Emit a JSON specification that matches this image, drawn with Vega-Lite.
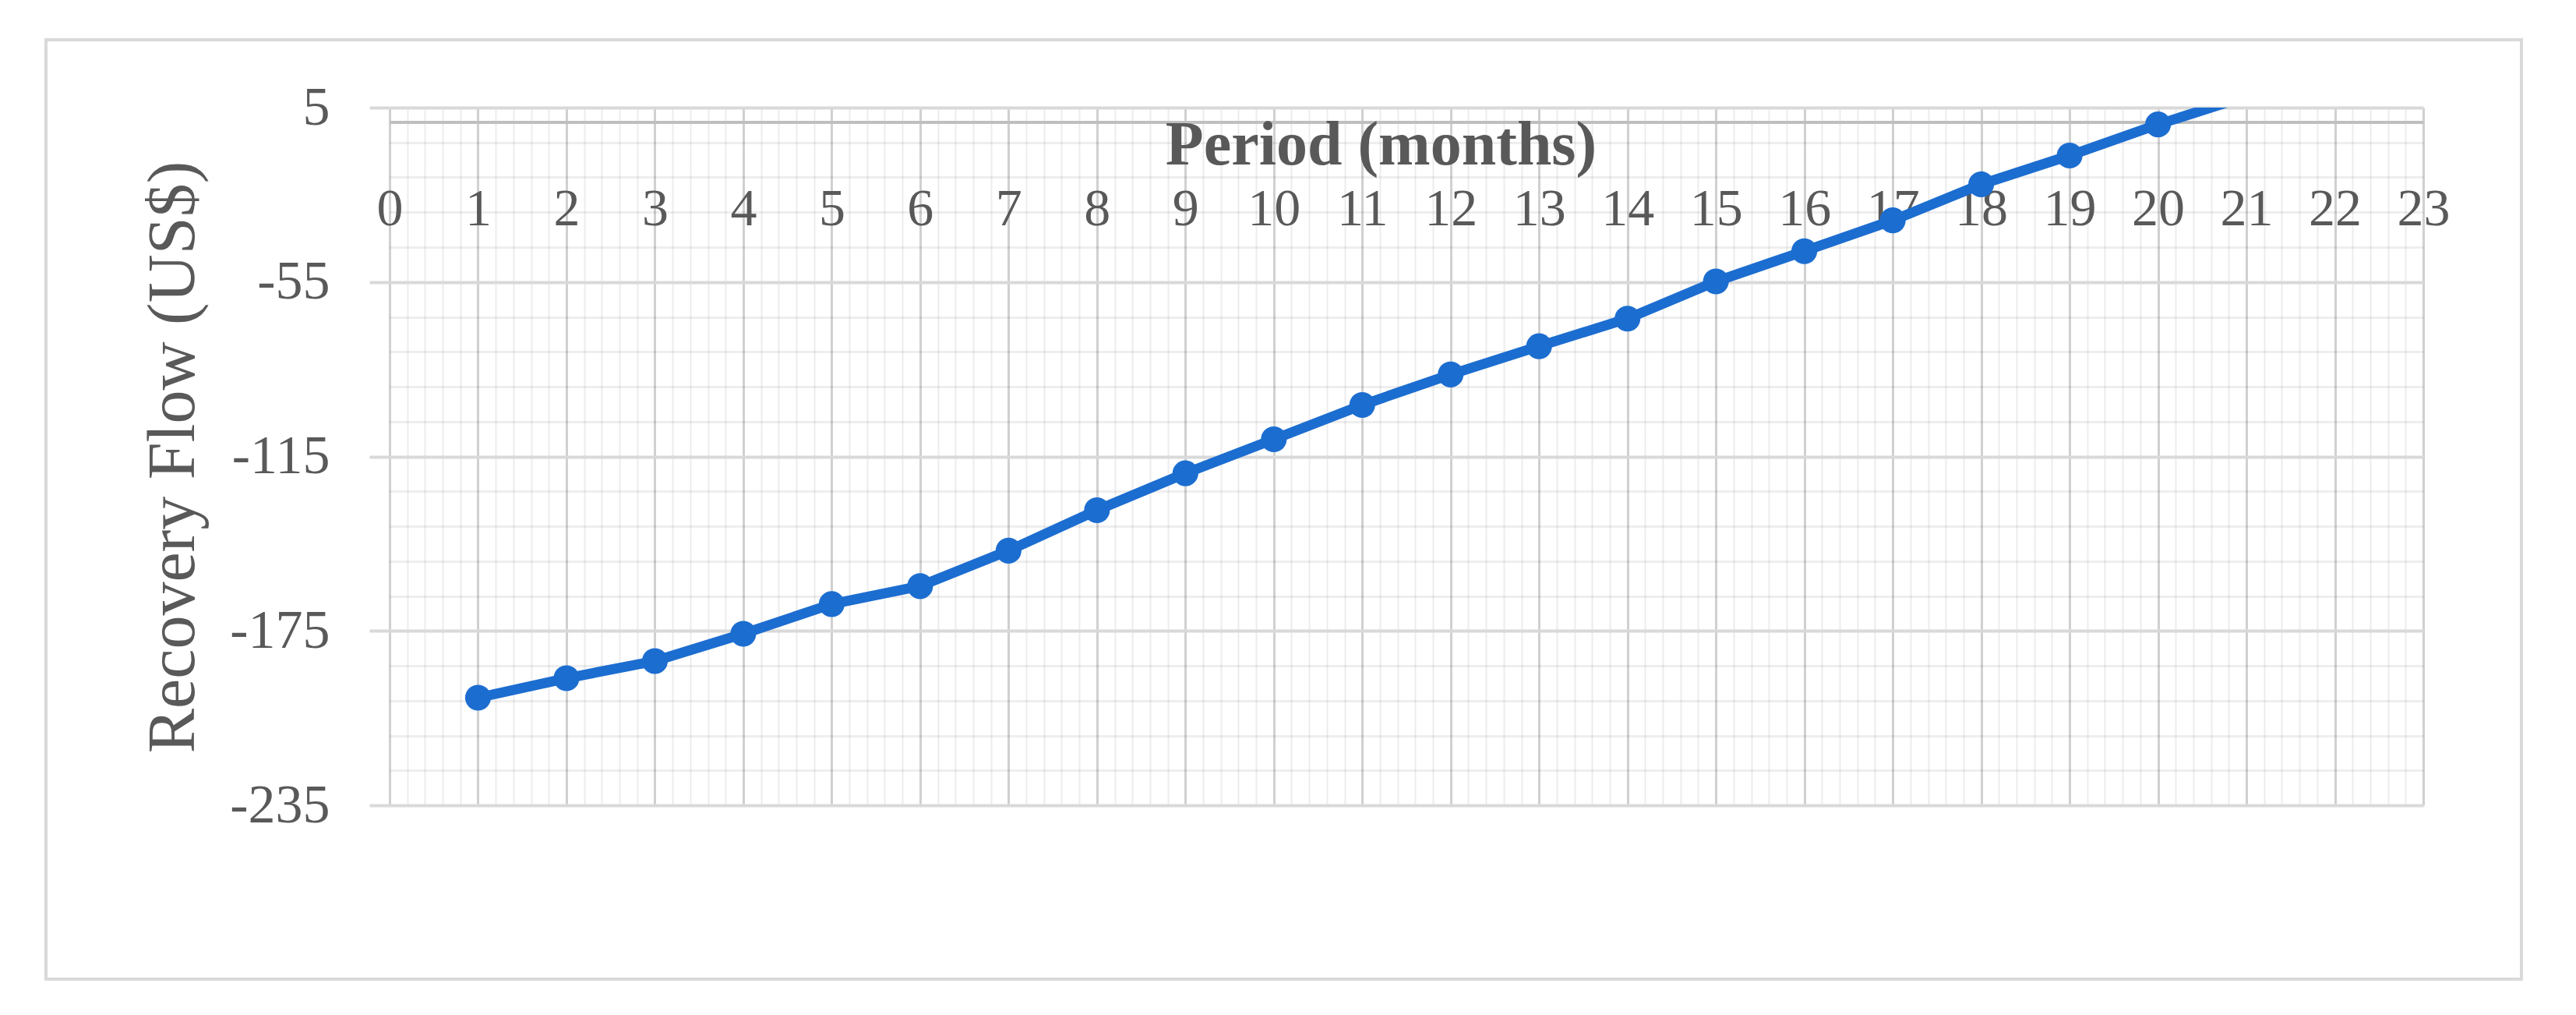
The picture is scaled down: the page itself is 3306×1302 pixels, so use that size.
{
  "$schema": "https://vega.github.io/schema/vega-lite/v6.json",
  "width": 2610,
  "height": 895,
  "autosize": {"type": "none"},
  "padding": {"left": 500, "top": 138, "right": 196, "bottom": 269},
  "background": "white",
  "config": {"view": {"stroke": null}},
  "data": {
    "values": [
      {"period": 1, "flow": -198.0},
      {"period": 2, "flow": -191.3},
      {"period": 3, "flow": -185.4},
      {"period": 4, "flow": -176.0},
      {"period": 5, "flow": -165.8},
      {"period": 6, "flow": -159.6},
      {"period": 7, "flow": -147.4},
      {"period": 8, "flow": -133.5},
      {"period": 9, "flow": -120.8},
      {"period": 10, "flow": -109.1},
      {"period": 11, "flow": -97.3},
      {"period": 12, "flow": -86.8},
      {"period": 13, "flow": -77.1},
      {"period": 14, "flow": -67.6},
      {"period": 15, "flow": -54.8},
      {"period": 16, "flow": -44.4},
      {"period": 17, "flow": -33.8},
      {"period": 18, "flow": -21.4},
      {"period": 19, "flow": -11.5},
      {"period": 20, "flow": -0.8},
      {"period": 21, "flow": 8.9}
    ]
  },
  "resolve": {"axis": {"x": "independent", "y": "independent"}},
  "layer": [
    {
      "data": {"values": [{"frame": "outer"}]},
      "mark": {"type": "rect", "fill": null, "stroke": "#d9d9d9", "strokeWidth": 4},
      "encoding": {
        "x": {"datum": -3.886, "type": "quantitative", "scale": {"domain": [0, 23], "nice": false, "zero": false}, "axis": null},
        "x2": {"datum": 24.11},
        "y": {"datum": 28.3, "type": "quantitative", "scale": {"domain": [-235, 5], "nice": false, "zero": false}, "axis": null},
        "y2": {"datum": -294.8}
      }
    },
    {
      "mark": {"type": "line", "color": "#1c6dd0", "strokeWidth": 13, "clip": true},
      "encoding": {
        "x": {
          "field": "period", "type": "quantitative",
          "scale": {"domain": [0, 23], "nice": false, "zero": false},
          "axis": {
            "orient": "bottom",
            "values": [0.2,0.4,0.6,0.8,1.2,1.4,1.6,1.8,2.2,2.4,2.6,2.8,3.2,3.4,3.6,3.8,4.2,4.4,4.6,4.8,5.2,5.4,5.6,5.8,6.2,6.4,6.6,6.8,7.2,7.4,7.6,7.8,8.2,8.4,8.6,8.8,9.2,9.4,9.6,9.8,10.2,10.4,10.6,10.8,11.2,11.4,11.6,11.8,12.2,12.4,12.6,12.8,13.2,13.4,13.6,13.8,14.2,14.4,14.6,14.8,15.2,15.4,15.6,15.8,16.2,16.4,16.6,16.8,17.2,17.4,17.6,17.8,18.2,18.4,18.6,18.8,19.2,19.4,19.6,19.8,20.2,20.4,20.6,20.8,21.2,21.4,21.6,21.8,22.2,22.4,22.6,22.8],
            "grid": true, "gridColor": "#000000", "gridOpacity": 0.075, "gridWidth": 2,
            "labels": false, "ticks": false, "domain": false, "title": null
          }
        },
        "y": {
          "field": "flow", "type": "quantitative",
          "scale": {"domain": [-235, 5], "nice": false, "zero": false},
          "axis": {
            "orient": "left",
            "values": [-7,-19,-31,-43,-67,-79,-91,-103,-127,-139,-151,-163,-187,-199,-211,-223],
            "grid": true, "gridColor": "#000000", "gridOpacity": 0.065, "gridWidth": 3,
            "labels": false, "ticks": false, "domain": false, "title": null
          }
        }
      }
    },
    {
      "transform": [{"filter": "datum.period <= 20"}],
      "mark": {"type": "circle", "size": 1100, "color": "#1c6dd0", "opacity": 1},
      "encoding": {
        "x": {
          "field": "period", "type": "quantitative",
          "scale": {"domain": [0, 23], "nice": false, "zero": false},
          "axis": {
            "orient": "bottom",
            "offset": -876.4,
            "values": [0,1,2,3,4,5,6,7,8,9,10,11,12,13,14,15,16,17,18,19,20,21,22,23],
            "grid": true, "gridColor": "#d0d0d0", "gridWidth": 3,
            "ticks": false,
            "domain": true, "domainColor": "#bfbfbf", "domainWidth": 4,
            "labelFont": "Liberation Serif", "labelFontSize": 68, "labelColor": "#595959",
            "labelBaseline": "alphabetic", "labelPadding": 131.4,
            "labelFlush": false, "labelOverlap": false,
            "title": "Period (months)",
            "titleFont": "Liberation Serif", "titleFontSize": 80, "titleFontWeight": "bold", "titleColor": "#595959",
            "titleX": 1272, "titleY": 53.4, "titleBaseline": "alphabetic", "titleAlign": "center"
          }
        },
        "y": {
          "field": "flow", "type": "quantitative",
          "scale": {"domain": [-235, 5], "nice": false, "zero": false},
          "axis": {
            "orient": "left",
            "values": [5, -55, -115, -175, -235],
            "grid": true, "gridColor": "#d9d9d9", "gridWidth": 4,
            "ticks": true, "tickSize": 26, "tickColor": "#d9d9d9", "tickWidth": 4,
            "domain": false,
            "labelExpr": "'' + datum.value",
            "labelFont": "Liberation Serif", "labelFontSize": 70, "labelColor": "#595959",
            "labelPadding": 51, "labelFlush": false, "labelOverlap": false,
            "title": "Recovery Flow (US$)",
            "titleFont": "Liberation Serif", "titleFontSize": 86, "titleFontWeight": "normal", "titleColor": "#595959",
            "titleX": -252, "titleY": 448, "titleAngle": -90, "titleBaseline": "alphabetic", "titleAlign": "center"
          }
        }
      }
    }
  ]
}
